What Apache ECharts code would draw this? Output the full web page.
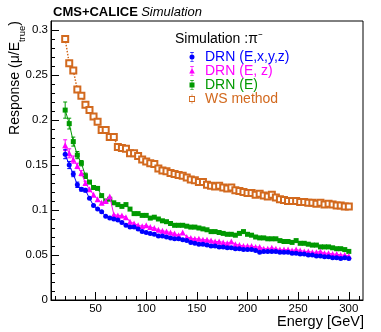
<!DOCTYPE html>
<html>
<head>
<meta charset="utf-8">
<script src="https://cdn.jsdelivr.net/npm/echarts@6/dist/echarts.min.js"></script>
<style>
  html, body { margin: 0; padding: 0; background: #fff; }
  #chart { width: 381px; height: 332px; }
</style>
</head>
<body>
<div id="chart"></div>
<script>
// beam energies (GeV)
const energies = [
  20, 24, 28, 32, 36, 40, 44, 48, 52, 56,
  60, 64, 68, 72, 76, 80, 84, 88, 92, 96,
  100, 104, 108, 112, 116, 120, 124, 128, 132, 136,
  140, 144, 148, 152, 156, 160, 164, 168, 172, 176,
  180, 184, 188, 192, 196, 200, 204, 208, 212, 216,
  220, 224, 228, 232, 236, 240, 244, 248, 252, 256,
  260, 264, 268, 272, 276, 280, 284, 288, 292, 296,
  300
];

// DRN (E,x,y,z)
const drnExyz = [
  0.162, 0.150, 0.140, 0.128, 0.123, 0.122, 0.113, 0.105, 0.101, 0.098,
  0.093, 0.091, 0.090, 0.089, 0.086, 0.083, 0.081, 0.081, 0.079, 0.076,
  0.075, 0.074, 0.073, 0.071, 0.071, 0.070, 0.069, 0.068, 0.068, 0.067,
  0.066, 0.064, 0.063, 0.062, 0.062, 0.061, 0.060, 0.060, 0.059, 0.059,
  0.058, 0.058, 0.057, 0.057, 0.056, 0.056, 0.056, 0.055, 0.053, 0.054,
  0.054, 0.054, 0.054, 0.053, 0.053, 0.053, 0.052, 0.052, 0.051, 0.051,
  0.050, 0.050, 0.049, 0.049, 0.048, 0.048, 0.047, 0.047, 0.046, 0.047,
  0.046
];

// DRN (E, z)
const drnEz = [
  0.172, 0.163, 0.156, 0.149, 0.141, 0.130, 0.123, 0.117, 0.112, 0.108,
  0.110, 0.115, 0.095, 0.094, 0.094, 0.092, 0.087, 0.085, 0.083, 0.082,
  0.083, 0.081, 0.080, 0.078, 0.077, 0.076, 0.075, 0.074, 0.072, 0.075,
  0.070, 0.069, 0.068, 0.068, 0.067, 0.067, 0.066, 0.065, 0.065, 0.064,
  0.063, 0.065, 0.062, 0.061, 0.060, 0.060, 0.060, 0.059, 0.059, 0.057,
  0.057, 0.058, 0.057, 0.056, 0.056, 0.056, 0.055, 0.056, 0.055, 0.054,
  0.054, 0.053, 0.053, 0.054, 0.052, 0.052, 0.051, 0.051, 0.050, 0.050,
  0.049
];

// DRN (E)
const drnE = [
  0.211, 0.196, 0.176, 0.161, 0.152, 0.138, 0.131, 0.125, 0.124, 0.116,
  0.110, 0.112, 0.108, 0.106, 0.104, 0.106, 0.101, 0.096, 0.096, 0.094,
  0.094, 0.091, 0.092, 0.090, 0.088, 0.087, 0.085, 0.083, 0.083, 0.083,
  0.082, 0.081, 0.081, 0.080, 0.079, 0.078, 0.076, 0.076, 0.075, 0.074,
  0.073, 0.073, 0.072, 0.074, 0.076, 0.073, 0.072, 0.070, 0.069, 0.069,
  0.068, 0.068, 0.068, 0.066, 0.065, 0.065, 0.064, 0.066, 0.063, 0.063,
  0.062, 0.061, 0.061, 0.059, 0.059, 0.059, 0.058, 0.057, 0.057, 0.056,
  0.054
];

// WS method
const wsMethod = [
  0.290, 0.263, 0.255, 0.234, 0.227, 0.217, 0.211, 0.204, 0.198, 0.189,
  0.189, 0.181, 0.181, 0.170, 0.169, 0.168, 0.163, 0.163, 0.160, 0.156,
  0.154, 0.152, 0.151, 0.146, 0.144, 0.143, 0.141, 0.140, 0.139, 0.138,
  0.136, 0.134, 0.133, 0.131, 0.131, 0.128, 0.127, 0.126, 0.127, 0.125,
  0.124, 0.125, 0.122, 0.121, 0.120, 0.119, 0.119, 0.117, 0.118, 0.116,
  0.115, 0.117, 0.114, 0.112, 0.111, 0.110, 0.110, 0.110, 0.109, 0.109,
  0.108, 0.108, 0.107, 0.108, 0.106, 0.107, 0.106, 0.105, 0.105, 0.104,
  0.104
];

// error bars, only visible on the first points
const errExyz = [0.005, 0.004, 0.003, 0.003, 0.002, 0.002];
const errEz = [0.006, 0.005, 0.004, 0.003, 0.003, 0.002];
const errE = [0.009, 0.006, 0.005, 0.004, 0.003, 0.003];

const xTicks = [50, 100, 150, 200, 250, 300];
const yTicks = [0, 0.05, 0.1, 0.15, 0.2, 0.25, 0.3];

const names = ["DRN (E,x,y,z)", "DRN (E, z)", "DRN (E)", "WS method"];
const colors = ["#0000ff", "#ff00ff", "#009900", "#d2691e"];

const font = "Liberation Sans, Arial, Helvetica, sans-serif";

// minor ticks every 10 GeV / 0.01
let xMinor = [];
for (let v = 10; v <= 310; v += 10) xMinor.push(v);
let yMinor = [];
for (let i = 1; i <= 30; i++) yMinor.push(+(i * 0.01).toFixed(2));

function pairs(vals) {
  return energies.map((e, i) => [e, vals[i]]);
}
function errData(vals, errs) {
  return errs.map((e, i) => [energies[i], vals[i], e]);
}
function errBars(color) {
  return function (params, api) {
    const x = api.value(0), y = api.value(1), e = api.value(2);
    const hi = api.coord([x, y + e]);
    const lo = api.coord([x, y - e]);
    const cap = 2;
    const style = { stroke: color, lineWidth: 1 };
    return {
      type: "group",
      children: [
        { type: "line", shape: { x1: hi[0], y1: hi[1], x2: lo[0], y2: lo[1] }, style: style },
        { type: "line", shape: { x1: hi[0] - cap, y1: hi[1], x2: hi[0] + cap, y2: hi[1] }, style: style },
        { type: "line", shape: { x1: lo[0] - cap, y1: lo[1], x2: lo[0] + cap, y2: lo[1] }, style: style },
      ],
    };
  };
}

// legend icons: marker with a small error bar
const iconCircle = "path://M2 0H8V1H5.5V15H8V16H2V15H4.5V1H2Z M1 8A4 4 0 1 1 9 8A4 4 0 1 1 1 8Z";
const iconTri = "path://M2 0H8V1H5.5V15H8V16H2V15H4.5V1H2Z M5 3L9.5 12L0.5 12Z";
const iconSq = "path://M2 0H8V1H5.5V15H8V16H2V15H4.5V1H2Z M1 4H9V12H1Z";
const iconOpen = "path://M4.5 0H5.5V3H4.5Z M0 3H10V13H0Z M1.5 4.5V11.5H8.5V4.5Z M4.5 13H5.5V16H4.5Z";

let chartDom = document.getElementById("chart");
let myChart = echarts.init(chartDom);

const tickStyle = { color: "#000", width: 1 };

let options = {
  animation: false,
  backgroundColor: "#fff",
  textStyle: { fontFamily: font },
  grid: {
    left: 51,
    right: 18,
    top: 21,
    bottom: 32,
    show: true,
    borderColor: "#000",
    borderWidth: 1,
  },
  xAxis: [
    {
      type: "value",
      min: 6,
      max: 314,
      position: "bottom",
      axisLine: { lineStyle: { color: "#000" } },
      axisTick: { inside: true, length: 8, customValues: xTicks, lineStyle: tickStyle },
      axisLabel: { customValues: xTicks, margin: 3, fontSize: 11.5, color: "#000", fontFamily: font },
      splitLine: { show: false },
    },
    {
      type: "value",
      min: 6,
      max: 314,
      position: "bottom",
      axisLine: { show: false },
      axisTick: { inside: true, length: 4, customValues: xMinor, lineStyle: tickStyle },
      axisLabel: { show: false },
      splitLine: { show: false },
    },
  ],
  yAxis: [
    {
      type: "value",
      min: 0,
      max: 0.31,
      position: "left",
      axisLine: { show: true, lineStyle: { color: "#000" } },
      axisTick: { show: true, inside: true, length: 8, customValues: yTicks, lineStyle: tickStyle },
      axisLabel: { customValues: yTicks, margin: 3, fontSize: 11.5, color: "#000", fontFamily: font },
      splitLine: { show: false },
    },
    {
      type: "value",
      min: 0,
      max: 0.31,
      position: "left",
      axisLine: { show: false },
      axisTick: { show: true, inside: true, length: 4, customValues: yMinor, lineStyle: tickStyle },
      axisLabel: { show: false },
      splitLine: { show: false },
    },
  ],
  legend: {
    orient: "vertical",
    left: 184,
    top: 45,
    itemWidth: 6,
    itemHeight: 10,
    itemGap: 0,
    selectedMode: false,
    textStyle: { fontSize: 14, fontFamily: font, padding: [0, 0, 0, 5] },
    data: names.map((n, i) => ({
      name: n,
      icon: [iconCircle, iconTri, iconSq, iconOpen][i],
      itemStyle: { color: colors[i], borderWidth: 0 },
      textStyle: { color: colors[i] },
    })),
  },
  graphic: [
    {
      type: "text",
      x: 53,
      y: 12,
      style: {
        text: "{b|CMS+CALICE} {i|Simulation}",
        verticalAlign: "middle",
        rich: {
          b: { fontFamily: font, fontSize: 13, fontWeight: "bold", fill: "#000" },
          i: { fontFamily: font, fontSize: 13, fontStyle: "italic", fill: "#000" },
        },
      },
    },
    {
      type: "text",
      x: 175,
      y: 39,
      style: {
        text: "Simulation :π\u207B",
        verticalAlign: "middle",
        font: "14px " + font,
        fill: "#000",
      },
    },
    {
      type: "text",
      x: 15,
      y: 21,
      rotation: Math.PI / 2,
      style: {
        text: "{a|Response (μ/E}{s|true}{a|)}",
        align: "right",
        verticalAlign: "middle",
        rich: {
          a: { fontFamily: font, fontSize: 14, fill: "#000", lineHeight: 16 },
          s: { fontFamily: font, fontSize: 9.5, fill: "#000", verticalAlign: "bottom", lineHeight: 10, padding: [0, 0, -4, 0] },
        },
      },
    },
    {
      type: "text",
      x: 364,
      y: 322,
      style: {
        text: "Energy [GeV]",
        align: "right",
        verticalAlign: "middle",
        font: "14.5px " + font,
        fill: "#000",
      },
    },
  ],
  series: [
    {
      name: "WS method",
      type: "line",
      data: pairs(wsMethod),
      symbol: "emptyRect",
      symbolSize: 6,
      itemStyle: { color: colors[3], borderColor: colors[3], borderWidth: 1 },
      lineStyle: { color: colors[3], width: 1.5, type: "dotted" },
      z: 2,
    },
    {
      name: "err3",
      type: "custom",
      renderItem: errBars(colors[2]),
      data: errData(drnE, errE),
      encode: { x: 0, y: 1 },
      z: 1,
    },
    {
      name: "DRN (E)",
      type: "line",
      data: pairs(drnE),
      symbol: "rect",
      symbolSize: 5,
      itemStyle: { color: colors[2] },
      lineStyle: { color: colors[2], width: 1 },
      z: 3,
    },
    {
      name: "err2",
      type: "custom",
      renderItem: errBars(colors[1]),
      data: errData(drnEz, errEz),
      encode: { x: 0, y: 1 },
      z: 1,
    },
    {
      name: "DRN (E, z)",
      type: "line",
      data: pairs(drnEz),
      symbol: "triangle",
      symbolSize: 6,
      itemStyle: { color: colors[1] },
      lineStyle: { color: colors[1], width: 1 },
      z: 4,
    },
    {
      name: "err1",
      type: "custom",
      renderItem: errBars(colors[0]),
      data: errData(drnExyz, errExyz),
      encode: { x: 0, y: 1 },
      z: 1,
    },
    {
      name: "DRN (E,x,y,z)",
      type: "line",
      data: pairs(drnExyz),
      symbol: "circle",
      symbolSize: 5,
      itemStyle: { color: colors[0] },
      lineStyle: { color: colors[0], width: 1 },
      z: 5,
    },
  ],
};
options && myChart.setOption(options);
window.onresize = myChart.resize;
</script>
</body>
</html>
